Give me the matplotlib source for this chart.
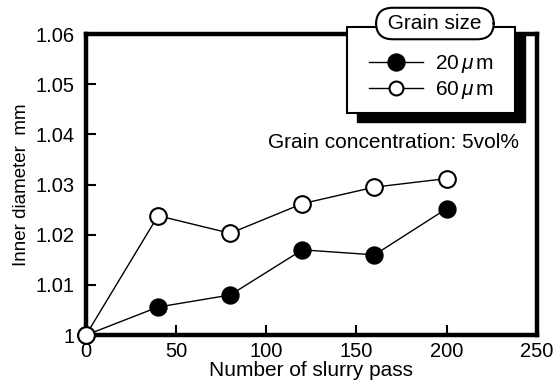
import matplotlib
matplotlib.use("Agg")
import matplotlib.pyplot as plt
from matplotlib.patches import Rectangle

# data
passes = [0, 40, 80, 120, 160, 200]
d_20um = [1.000, 1.0056, 1.008, 1.017, 1.016, 1.0252]
d_60um = [1.000, 1.0238, 1.0203, 1.0262, 1.0295, 1.0312]
labels = ["20$\\,\\mu\\,$m", "60$\\,\\mu\\,$m"]
xticks = [0, 50, 100, 150, 200, 250]
yticks = [1.00, 1.01, 1.02, 1.03, 1.04, 1.05, 1.06]
yticklabels = ["1", "1.01", "1.02", "1.03", "1.04", "1.05", "1.06"]

plt.rcParams["font.family"] = ["Liberation Sans", "DejaVu Sans"]
plt.rcParams["mathtext.fontset"] = "custom"
plt.rcParams["mathtext.it"] = "Liberation Sans:italic"
plt.rcParams["mathtext.rm"] = "Liberation Sans"

fig = plt.figure(figsize=(5.58, 3.87), dpi=100)
ax = fig.add_axes([0.154, 0.134, 0.808, 0.778])

l20, = ax.plot(passes, d_20um, "-o", color="black", mfc="black", mec="black",
               ms=12, lw=1.0, mew=1.2, clip_on=False, zorder=3)
l60, = ax.plot(passes, d_60um, "-o", color="black", mfc="white", mec="black",
               ms=12, lw=1.0, mew=1.5, clip_on=False, zorder=4)

ax.set_xlim(0, 250)
ax.set_ylim(1.0, 1.06)
ax.set_xticks(xticks)
ax.set_yticks(yticks)
ax.set_yticklabels(yticklabels)
ax.tick_params(direction="in", length=7, width=1.5, labelsize=14.5)
ax.tick_params(axis="y", pad=8)
ax.tick_params(axis="x", pad=5)
for s in ax.spines.values():
    s.set_linewidth(3.2)

ax.set_xlabel("Number of slurry pass", fontsize=15, labelpad=0)
ax.set_ylabel("Inner diameter  mm", fontsize=13.5, labelpad=4)

# legend frame with drop shadow
x0, y0, w, h = 0.580, 0.738, 0.372, 0.285
ax.add_patch(Rectangle((x0 + 0.022, y0 - 0.030), w, h, transform=ax.transAxes,
                       fc="black", ec="black", clip_on=False, zorder=10))
ax.add_patch(Rectangle((x0, y0), w, h, transform=ax.transAxes,
                       fc="white", ec="black", lw=1.5, clip_on=False, zorder=11))
ax.text(0.774, 1.035, " Grain size ", transform=ax.transAxes, ha="center", va="center",
        fontsize=15, zorder=13,
        bbox=dict(boxstyle="round,pad=0.3,rounding_size=0.8", fc="white", ec="black", lw=1.5))
leg = ax.legend([l20, l60], labels, loc="upper left", bbox_to_anchor=(0.61, 0.965),
                frameon=False, fontsize=15, handlelength=2.6, handletextpad=0.55,
                labelspacing=0.2, borderaxespad=0)
leg.set_zorder(14)
leg.legend_handles[1].set_markersize(10)

ax.text(0.960, 0.641, "Grain concentration: 5vol%", transform=ax.transAxes,
        ha="right", va="center", fontsize=15)

fig.savefig("out.png", dpi=100)
